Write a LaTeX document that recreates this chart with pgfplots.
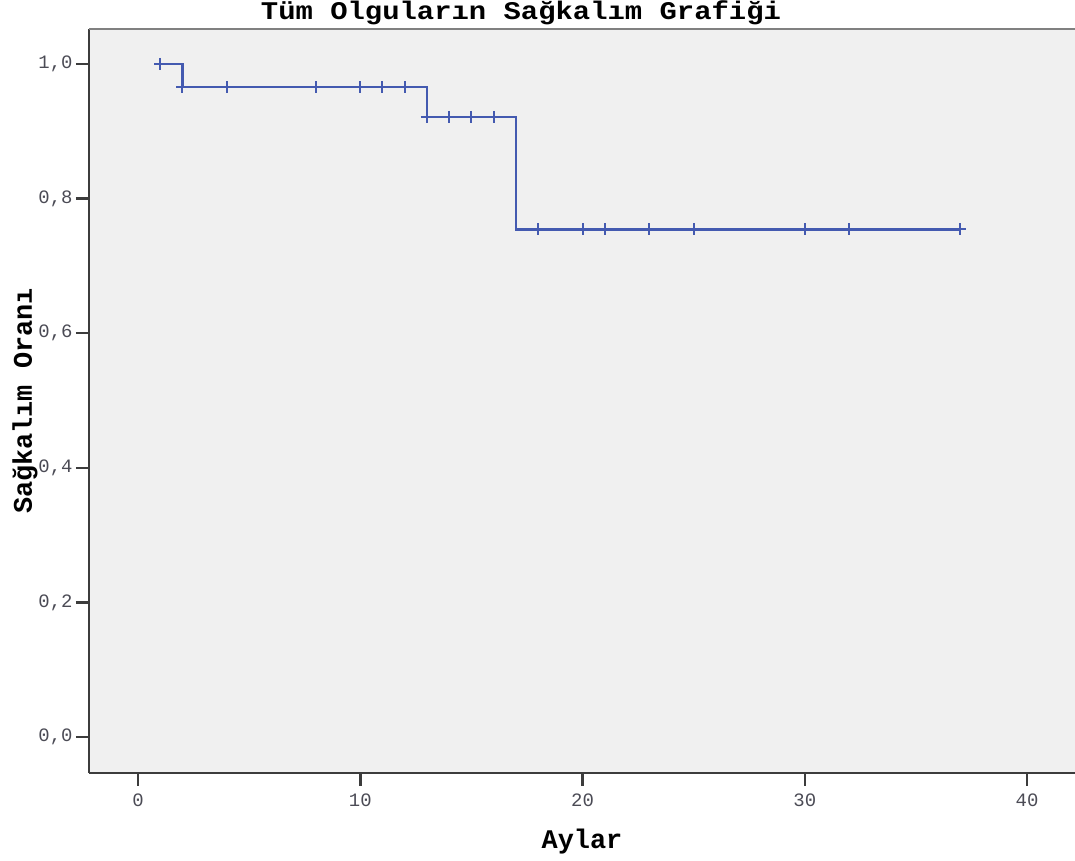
\documentclass[border=0pt]{standalone}
\usepackage{pgfplots}
\pgfplotsset{compat=1.18}
\usepackage{graphicx}
\usepackage{fontspec}
\setmainfont{Liberation Mono}
\definecolor{bgc}{RGB}{240,240,240}
\definecolor{kmblue}{RGB}{68,90,176}
\definecolor{axdark}{RGB}{60,60,60}
\definecolor{ticklab}{RGB}{75,75,85}
\begin{document}
\begin{tikzpicture}
\useasboundingbox (0,0) rectangle (1075bp,861bp);
\begin{axis}[
  at={(89bp,88bp)}, anchor=south west,
  scale only axis, width=986bp, height=744bp,
  xmin=-2.205, xmax=42.16, ymin=-0.0535, ymax=1.052,
  axis x line*=bottom, axis y line*=left,
  axis line style={-, draw=axdark, line width=2bp},
  axis background/.style={fill=bgc},
  xtick={0,10,20,30,40},
  ytick={0,0.2,0.4,0.6,0.8,1.0},
  tick align=outside,
  major tick length=13bp,
  tick style={draw=axdark, line width=2.5bp},
  /pgf/number format/assume math mode=true,
  yticklabel style={/pgf/number format/.cd, fixed, fixed zerofill, precision=1, use comma},
  ticklabel style={font=\fontsize{19}{22}\selectfont, text=ticklab},
  xticklabel style={yshift=-4bp},
  xlabel={\bfseries Aylar},
  ylabel={\bfseries Sağkalım Oranı},
  label style={font=\fontsize{27}{30}\selectfont},
  xlabel style={at={(rel axis cs:0.5,0)}, anchor=base, yshift=-75bp},
  ylabel style={at={(rel axis cs:0,0.5)}, anchor=base, yshift=57bp},
  clip=false,
]
\draw[draw=gray, line width=2bp] (rel axis cs:0,1) -- (rel axis cs:1,1);
\addplot[const plot, draw=kmblue, line width=2.2bp] coordinates {
  (1,1.0) (2,0.9655) (13,0.9216) (17,0.7541) (37,0.7541)
};
\addplot[only marks, mark=+, mark size=6bp, draw=kmblue, mark options={line width=2bp}] coordinates {
  (1,1.0) (2,0.9655) (4,0.9655) (8,0.9655) (10,0.9655) (11,0.9655) (12,0.9655)
  (13,0.9216) (14,0.9216) (15,0.9216) (16,0.9216)
  (18,0.7541) (20,0.7541) (21,0.7541) (23,0.7541) (25,0.7541) (30,0.7541) (32,0.7541) (37,0.7541)
};
\end{axis}
\node[anchor=base, inner sep=0pt, font=\fontsize{29}{32}\selectfont\bfseries] at (521bp,841bp) {\scalebox{1}[0.88]{Tüm Olguların Sağkalım Grafiği}};
\end{tikzpicture}
\end{document}
